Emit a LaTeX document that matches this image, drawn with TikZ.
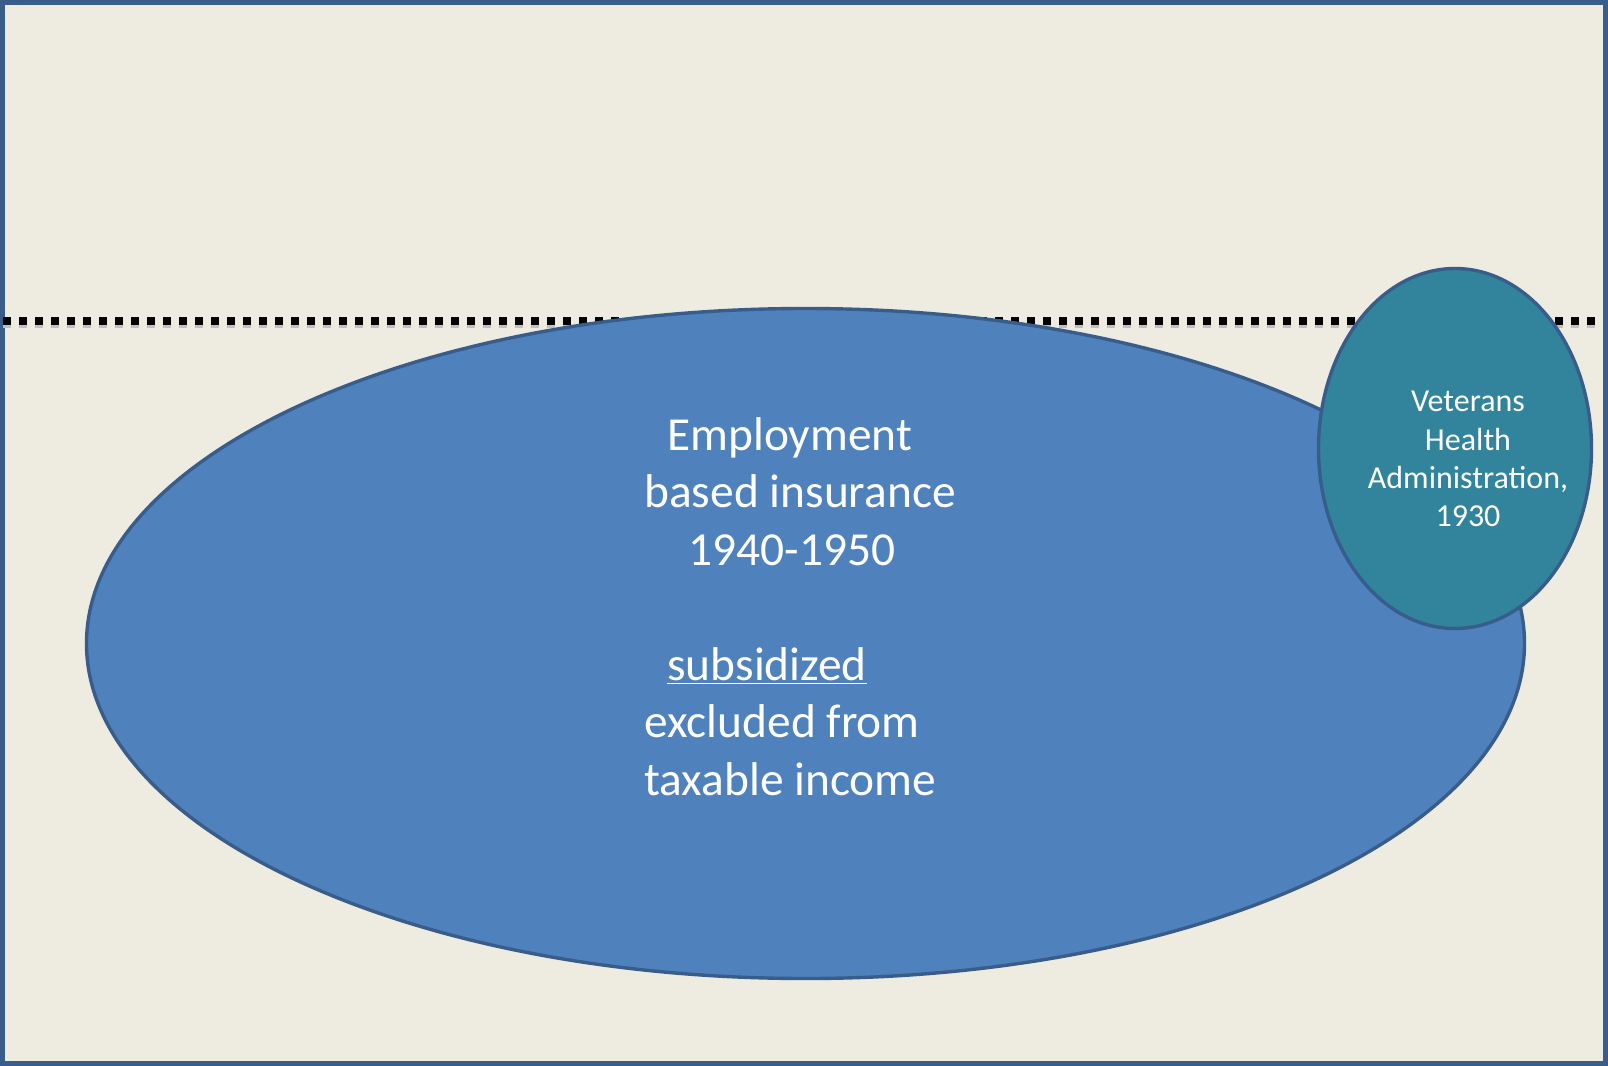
\documentclass[tikz,border=0pt]{standalone}
\usepackage{fontspec}
\setmainfont{Carlito}
\usetikzlibrary{shapes.geometric}
\definecolor{slidebg}{HTML}{EEEBE0}
\definecolor{frameblue}{HTML}{385D8A}
\definecolor{ovalblue}{HTML}{4F81BD}
\definecolor{ovalteal}{HTML}{31849B}

\begin{document}
\begin{tikzpicture}[x=0.5pt,y=-0.5pt]
\tikzstyle{oval}=[ellipse,draw=frameblue,line width=1.7pt,inner sep=0pt]
\tikzstyle{ovaltext}=[text=white,inner sep=0pt]
\tikzstyle{cutline}=[line width=4pt,dash pattern=on 4pt off 4pt]
\useasboundingbox (0,0) rectangle (1608,1066);
\fill[slidebg] (0,0) rectangle (1608,1066);
\draw[frameblue,line width=2.5pt] (2.5,2.5) rectangle (1605.5,1063.5);

% dotted line behind the ovals
\coordinate (lineW) at (3,321);
\coordinate (lineE) at (1600,321);
\draw[cutline,black!25] ([yshift=-1.5pt]lineW) -- ([yshift=-1.5pt]lineE);
\draw[cutline] (lineW) -- (lineE);

\node[oval,fill=ovalblue,minimum width=719pt,minimum height=335pt](ebi) at (805.5,643.5) {};
\node[oval,fill=ovalteal,minimum width=136.5pt,minimum height=180pt](vha) at (1455,448.5) {};

\node[ovaltext,font=\fontsize{23.7}{28.75}\selectfont,align=left,anchor=north west](ebitext) at (644,417)
  {\hspace*{11.5pt}Employment\\based insurance\\\hspace*{22pt}1940-1950\\[28.75pt]\hspace*{11.5pt}\underline{subsidized}\\excluded from\\taxable income};
\node[ovaltext,font=\fontsize{16}{19.1}\selectfont,align=center,anchor=north](vhatext) at (1468,391)
  {Veterans\\Health\\Administration,\\1930};
\end{tikzpicture}
\end{document}
